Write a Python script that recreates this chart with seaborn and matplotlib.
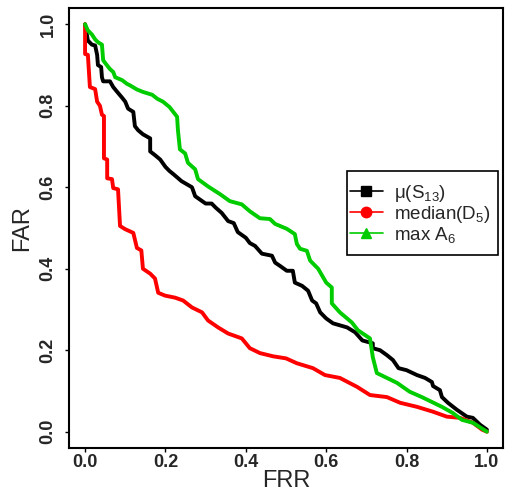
import numpy as np
import pandas as pd
import matplotlib
matplotlib.use("Agg")
import matplotlib.pyplot as plt
from matplotlib.lines import Line2D
from matplotlib.patches import Rectangle
import seaborn as sns

# --- data ---
black_x = [0.0, 0.007, 0.017, 0.025, 0.03, 0.032, 0.04, 0.042, 0.045, 0.062, 0.07, 0.08, 0.092, 0.1, 0.107,
           0.12, 0.124, 0.132, 0.144, 0.162, 0.162, 0.175, 0.187, 0.2, 0.21, 0.22, 0.24, 0.266, 0.274, 0.3,
           0.315, 0.325, 0.34, 0.356, 0.37, 0.38, 0.4, 0.41, 0.423, 0.44, 0.465, 0.473, 0.485, 0.502, 0.517,
           0.522, 0.54, 0.555, 0.565, 0.575, 0.585, 0.6, 0.617, 0.652, 0.672, 0.69, 0.716, 0.716, 0.734, 0.751,
           0.766, 0.78, 0.8, 0.826, 0.846, 0.863, 0.866, 0.883, 0.888, 0.903, 0.925, 0.95, 0.965, 0.983, 1.0]
black_y = [1.0, 0.96, 0.95, 0.948, 0.925, 0.9, 0.895, 0.87, 0.86, 0.86, 0.846, 0.834, 0.82, 0.81, 0.793,
           0.785, 0.75, 0.74, 0.73, 0.72, 0.688, 0.678, 0.668, 0.65, 0.64, 0.632, 0.615, 0.6, 0.578, 0.56,
           0.56, 0.55, 0.537, 0.517, 0.512, 0.49, 0.476, 0.463, 0.456, 0.437, 0.432, 0.415, 0.407, 0.395, 0.395,
           0.366, 0.358, 0.346, 0.322, 0.315, 0.293, 0.278, 0.266, 0.256, 0.244, 0.224, 0.217, 0.205, 0.2, 0.188,
           0.176, 0.156, 0.151, 0.139, 0.132, 0.122, 0.112, 0.102, 0.085, 0.071, 0.054, 0.037, 0.034, 0.017, 0.005]

red_x = [0.0, 0.0, 0.007, 0.012, 0.025, 0.03, 0.037, 0.042, 0.047, 0.047, 0.055, 0.055, 0.067, 0.07, 0.082,
         0.087, 0.1, 0.12, 0.129, 0.14, 0.144, 0.162, 0.174, 0.182, 0.199, 0.224, 0.244, 0.266, 0.291, 0.306,
         0.331, 0.356, 0.39, 0.41, 0.435, 0.468, 0.5, 0.527, 0.567, 0.597, 0.634, 0.677, 0.709, 0.751, 0.784,
         0.826, 0.866, 0.9, 0.933, 0.965, 0.988, 1.0]
red_y = [1.0, 0.927, 0.925, 0.846, 0.841, 0.81, 0.8, 0.778, 0.775, 0.671, 0.668, 0.622, 0.62, 0.598, 0.595,
         0.505, 0.497, 0.488, 0.451, 0.445, 0.4, 0.388, 0.376, 0.341, 0.334, 0.329, 0.322, 0.305, 0.293, 0.273,
         0.256, 0.241, 0.229, 0.205, 0.193, 0.185, 0.18, 0.168, 0.156, 0.139, 0.132, 0.11, 0.09, 0.085, 0.071,
         0.061, 0.049, 0.037, 0.034, 0.022, 0.005, 0.0]

green_x = [0.0, 0.007, 0.017, 0.025, 0.032, 0.042, 0.045, 0.05, 0.062, 0.07, 0.075, 0.092, 0.104, 0.112, 0.129,
           0.144, 0.167, 0.18, 0.194, 0.21, 0.229, 0.231, 0.236, 0.249, 0.256, 0.274, 0.281, 0.306, 0.336, 0.36,
           0.39, 0.41, 0.435, 0.46, 0.473, 0.502, 0.522, 0.527, 0.535, 0.552, 0.56, 0.58, 0.6, 0.614, 0.614,
           0.634, 0.664, 0.679, 0.697, 0.709, 0.716, 0.726, 0.751, 0.776, 0.808, 0.838, 0.863, 0.888, 0.915,
           0.938, 0.965, 1.0]
green_y = [1.0, 0.985, 0.975, 0.963, 0.956, 0.95, 0.912, 0.905, 0.89, 0.883, 0.87, 0.863, 0.854, 0.85, 0.84,
           0.834, 0.827, 0.817, 0.81, 0.797, 0.773, 0.741, 0.693, 0.683, 0.66, 0.644, 0.62, 0.602, 0.583, 0.566,
           0.558, 0.541, 0.524, 0.522, 0.51, 0.498, 0.485, 0.461, 0.449, 0.444, 0.42, 0.4, 0.366, 0.354, 0.315,
           0.293, 0.268, 0.249, 0.237, 0.229, 0.183, 0.144, 0.132, 0.12, 0.098, 0.085, 0.073, 0.061, 0.046,
           0.029, 0.022, 0.0]

labels = [r"$\mu$(S$_{13}$)", "median(D$_{5}$)", "max A$_{6}$"]
colors = ["#000000", "#ff0000", "#00cc00"]
legend_markers = ["s", "o", "^"]
x_ticks = [0.0, 0.2, 0.4, 0.6, 0.8, 1.0]
y_ticks = [0.0, 0.2, 0.4, 0.6, 0.8, 1.0]

sns.set_style("white")
plt.rcParams["font.family"] = ["Liberation Sans", "DejaVu Sans"]
plt.rcParams["mathtext.fontset"] = "custom"
plt.rcParams["mathtext.rm"] = "Liberation Sans"
plt.rcParams["mathtext.it"] = "Liberation Sans"
plt.rcParams["mathtext.default"] = "regular"

W, H = 507, 497
L, R, T, B = 69, 503, 8, 448
fig = plt.figure(figsize=(W/100, H/100), dpi=100)
ax = fig.add_axes([L/W, 1-B/H, (R-L)/W, (B-T)/H])

def axx(px):
    return (px - L) / (R - L)

def axy(py):
    return (B - py) / (B - T)

series = [(black_x, black_y), (red_x, red_y), (green_x, green_y)]
for (xs, ys), c in zip(series, colors):
    df = pd.DataFrame({"FRR": xs, "FAR": ys})
    sns.lineplot(data=df, x="FRR", y="FAR", ax=ax, color=c, lw=2.8, sort=False,
                 estimator=None)

ax.set_xlim(-0.04, 1.04)
ax.set_ylim(-0.04, 1.04)
ax.set_xticks(x_ticks)
ax.set_yticks(y_ticks)
ax.set_xticklabels([f"{v:.1f}" for v in x_ticks], fontsize=13, fontweight="bold")
ax.set_yticklabels([f"{v:.1f}" for v in y_ticks], fontsize=13, fontweight="bold",
                   rotation=90, va="center")
ax.tick_params(axis="both", direction="out", length=3, width=1.0, color="black",
               left=True, bottom=True)
ax.tick_params(axis="x", pad=1)
ax.tick_params(axis="y", pad=6)
for s in ax.spines.values():
    s.set_visible(True)
    s.set_color("black")
    s.set_linewidth(1.5)
ax.set_xlabel("FRR", fontsize=17, va="center")
ax.xaxis.set_label_coords(0.5, axy(481))
ax.set_ylabel("FAR", fontsize=17, va="center")
ax.yaxis.set_label_coords(axx(22), 0.5)

# legend frame
ax.add_patch(Rectangle((axx(347), axy(255)), axx(498) - axx(347), axy(171) - axy(255),
                       transform=ax.transAxes, fill=True, facecolor="white",
                       edgecolor="black", lw=1.2, zorder=4))
handles = [Line2D([0], [0], color=c, lw=1.2, marker=m, markersize=7.5)
           for c, m in zip(colors, legend_markers)]
leg = ax.legend(handles, labels, loc="upper left", bbox_to_anchor=(axx(350), axy(183)),
                fontsize=13.5, frameon=False, labelspacing=0.0,
                handlelength=1.75, handletextpad=0.62, borderpad=0, borderaxespad=0)
leg.set_zorder(5)

fig.savefig("out.png", dpi=100)
